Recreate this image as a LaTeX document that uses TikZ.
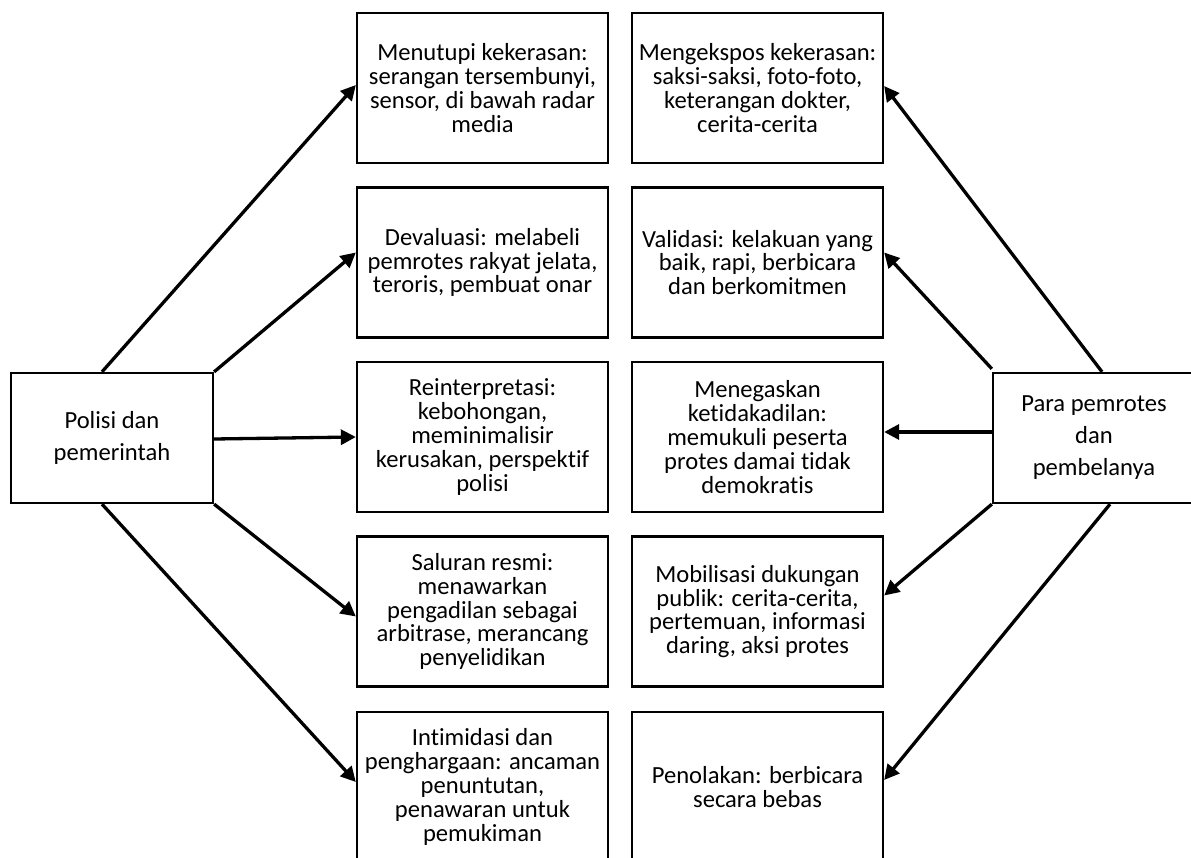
\documentclass[tikz,border=0pt]{standalone}
\usepackage{fontspec}
\setmainfont{Carlito}[Ligatures=NoCommon]
\usetikzlibrary{arrows.meta}
\tikzset{
  midbox/.style={draw, line width=2.3pt, minimum width=251pt, minimum height=150pt, inner sep=0pt, align=center, font=\fontsize{24.6}{23.8}\selectfont},
  sidebox/.style={draw, line width=2.3pt, minimum width=202pt, minimum height=130pt, inner sep=0pt, align=center, font=\fontsize{24.6}{32}\selectfont},
  link/.style={line width=3.3pt, -{Triangle[length=15pt,width=15pt]}}
}
\begin{document}
\begin{tikzpicture}[x=1pt,y=-1pt]
\useasboundingbox (0,0) rectangle (1191,858);
\clip (0,0) rectangle (1191,858);
\fill[white] (0,0) rectangle (1191,858);
% left column
\node[midbox] (m1) at (482.5,88) {Menutupi kekerasan:\\serangan tersembunyi,\\sensor, di bawah radar\\media};
\node[midbox] (m2) at (482.5,262.5) {Devaluasi: melabeli\\pemrotes rakyat jelata,\\teroris, pembuat onar};
\node[midbox] (m3) at (482.5,437) {Reinterpretasi:\\kebohongan,\\meminimalisir\\kerusakan, perspektif\\polisi};
\node[midbox] (m4) at (482.5,611.5) {Saluran resmi:\\menawarkan\\pengadilan sebagai\\arbitrase, merancang\\penyelidikan};
\node[midbox] (m5) at (482.5,787) {Intimidasi dan\\penghargaan: ancaman\\penuntutan,\\penawaran untuk\\pemukiman};
% right column
\node[midbox] (n1) at (757.5,88) {Mengekspos kekerasan:\\saksi-saksi, foto-foto,\\keterangan dokter,\\cerita-cerita};
\node[midbox] (n2) at (757.5,262.5) {Validasi: kelakuan yang\\baik, rapi, berbicara\\dan berkomitmen};
\node[midbox] (n3) at (757.5,437) {Menegaskan\\ketidakadilan:\\memukuli peserta\\protes damai tidak\\demokratis};
\node[midbox] (n4) at (757.5,611.5) {Mobilisasi dukungan\\publik: cerita-cerita,\\pertemuan, informasi\\daring, aksi protes};
\node[midbox] (n5) at (757.5,787) {Penolakan: berbicara\\secara bebas};
% side boxes
\node[sidebox] (L) at (112,438) {Polisi dan\\pemerintah};
\node[sidebox] (R) at (1094,438) {Para pemrotes\\dan\\pembelanya};
% left arrows
\draw[link] ([xshift=-10pt]L.north) -- ([yshift=3pt]m1.west);
\draw[link] (L.north east) -- ([yshift=10pt]m2.west);
\draw[link] ([yshift=-1pt]L.east) -- (m3.west);
\draw[link] (L.south east) -- ([yshift=-5pt]m4.west);
\draw[link] ([xshift=-10pt]L.south) -- ([yshift=5pt]m5.west);
% right arrows
\draw[link] ([xshift=8pt]R.north) -- ([yshift=2pt]n1.east);
\draw[link] ([yshift=3pt]R.north west) -- ([yshift=10pt]n2.east);
\draw[link] ([yshift=6pt]R.west) -- ([yshift=5pt]n3.east);
\draw[link] (R.south west) -- ([yshift=16pt]n4.east);
\draw[link] ([xshift=16pt]R.south) -- ([yshift=7pt]n5.east);
\end{tikzpicture}
\end{document}
